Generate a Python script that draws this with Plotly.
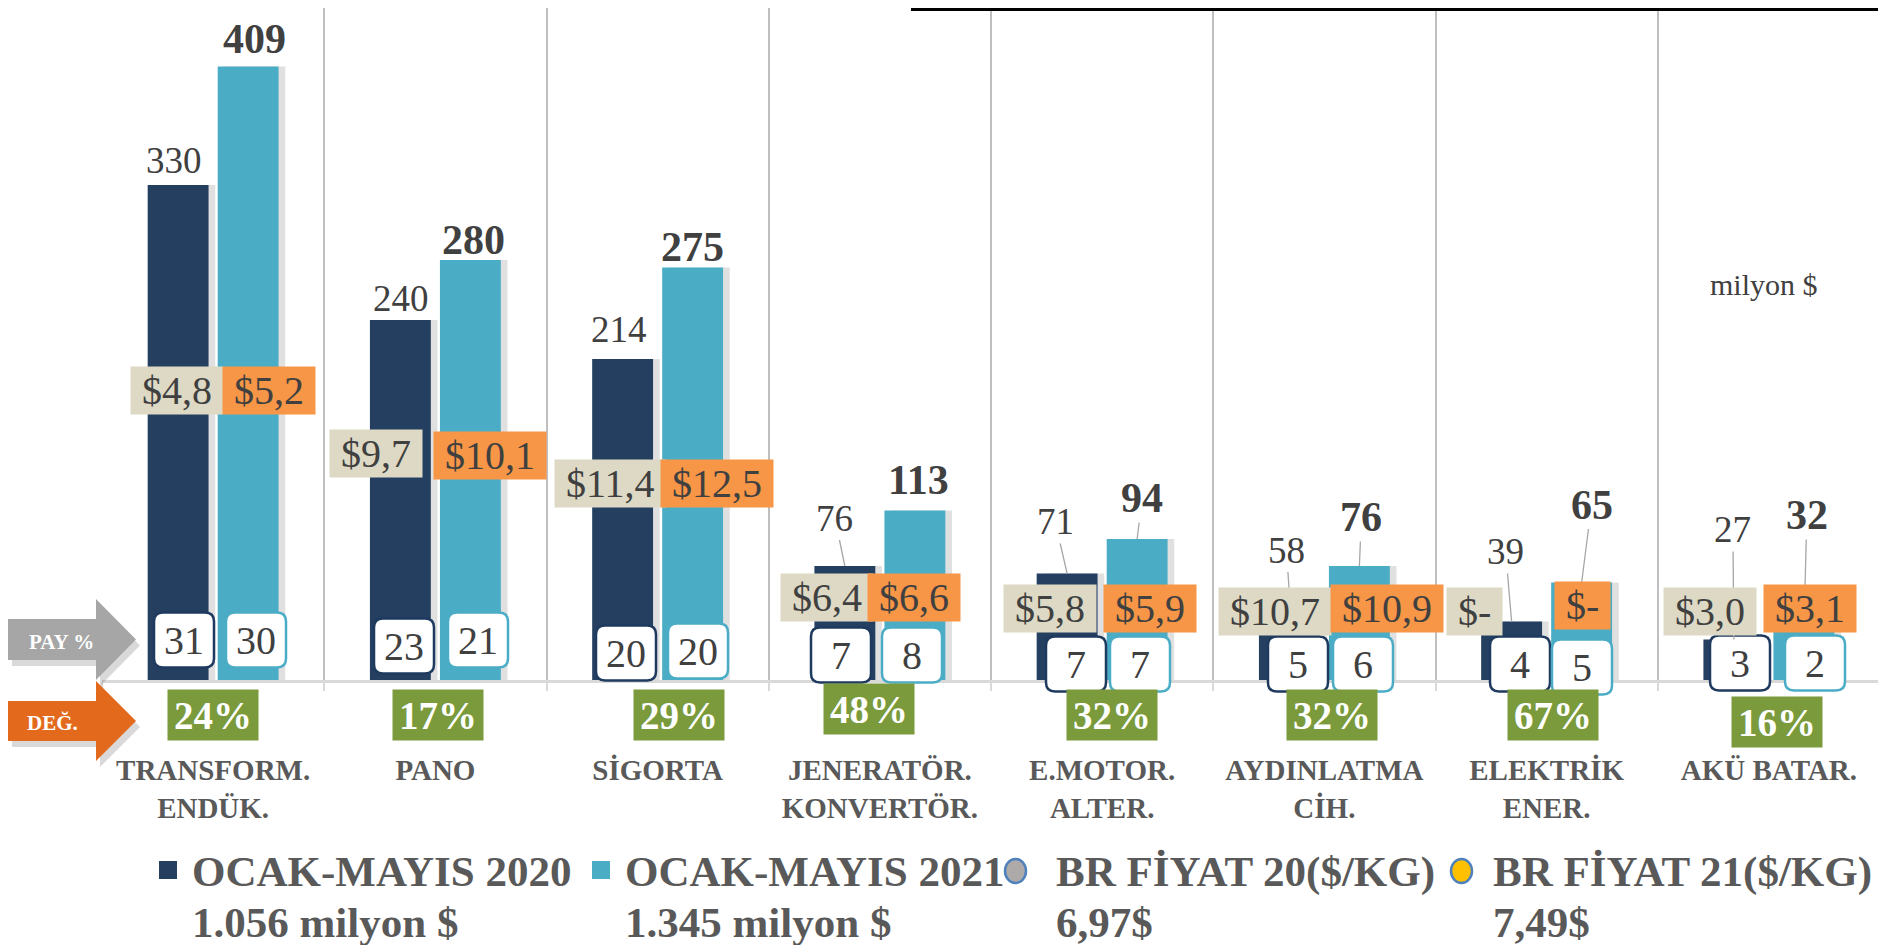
import plotly.graph_objects as go

# ---- data ----
categories = ["TRANSFORM.<br>ENDÜK.", "PANO", "SİGORTA", "JENERATÖR.<br>KONVERTÖR.",
              "E.MOTOR.<br>ALTER.", "AYDINLATMA<br>CİH.", "ELEKTRİK<br>ENER.", "AKÜ BATAR."]
exports_2020 = [330, 240, 214, 76, 71, 58, 39, 27]
exports_2021 = [409, 280, 275, 113, 94, 76, 65, 32]
price_2020 = [4.8, 9.7, 11.4, 6.4, 5.8, 10.7, 0, 3.0]
price_2021 = [5.2, 10.1, 12.5, 6.6, 5.9, 10.9, 0, 3.1]
share_2020 = [31, 23, 20, 7, 7, 5, 4, 3]
share_2021 = [30, 21, 20, 8, 7, 6, 5, 2]
change_pct = [24, 17, 29, 48, 32, 32, 67, 16]
legend_names = ["OCAK-MAYIS 2020", "OCAK-MAYIS 2021", "BR FİYAT 20($/KG)", "BR FİYAT 21($/KG)"]
legend_totals = ["1.056 milyon $", "1.345 milyon $", "6,97$", "7,49$"]

DARK = "#253F60"
LIGHT = "#4BACC6"
BEIGE = "#DDD9C4"
ORANGE = "#F79646"
GREEN = "#7A9A3B"
TXT = "#404040"
GREY_TXT = "#595959"
FONT = "Liberation Serif"

# the page body adds an 8px margin, so the figure is a bit smaller and shifted
W, H = 1878, 937
L, R, T, B = 94, 6, 0, 265
PW, PH = W - L - R, H - T - B


def px(x):  # page x (reference pixels) -> paper
    return (x - 102) / PW


def py(y):  # page y (reference pixels) -> paper
    return (680 - y) / PH


def money(v):
    return "$-" if v == 0 else "$" + f"{v:.1f}".replace(".", ",")


OFF = 0.1575
BW = 0.274

fig = go.Figure()
# soft shadows
for vals, off in [(exports_2020, -OFF), (exports_2021, OFF)]:
    fig.add_trace(go.Bar(x=categories, y=vals, offset=off - BW / 2 + 0.03, width=BW,
                         marker=dict(color="rgba(0,0,0,0.12)", line_width=0),
                         showlegend=False, hoverinfo="skip"))
fig.add_trace(go.Bar(x=categories, y=exports_2020, name=legend_names[0], offset=-OFF - BW / 2,
                     width=BW, marker=dict(color=DARK, line_width=0)))
fig.add_trace(go.Bar(x=categories, y=exports_2021, name=legend_names[1], offset=OFF - BW / 2,
                     width=BW, marker=dict(color=LIGHT, line_width=0)))

ann = []
shapes = []


def note(x, y, text, **kw):
    d = dict(x=px(x), y=py(y), xref="paper", yref="paper", showarrow=False, text=text,
             xanchor="center", yanchor="middle")
    d.update(kw)
    ann.append(d)


# value labels (dx, dy in px relative to bar top; leader = draw connector line)
lab20 = [(-4, -25, 0), (1, -22, 0), (-4, -30, 0), (-10, -48, 1), (-12, -52, 1), (-3, -43, 1), (-6, -70, 1), (-1, -110, 1)]
lab21 = [(6, -28, 0), (3, -20, 0), (0, -21, 0), (4, -31, 0), (5, -41, 1), (2, -49, 1), (10, -78, 1), (3, -117, 1)]
for vals, labs, off, bold, size in [(exports_2020, lab20, -OFF, False, 37), (exports_2021, lab21, OFF, True, 42)]:
    for i, (v, (dx, dy, leader)) in enumerate(zip(vals, labs)):
        a = dict(x=i + off, y=v, xref="x", yref="y", text=str(v), xanchor="center", yanchor="middle",
                 font=dict(family=FONT, size=size, color=TXT, weight="bold" if bold else "normal"))
        if leader:
            a.update(showarrow=True, arrowhead=0, arrowwidth=1.3, arrowcolor="#A6A6A6",
                     ax=dx, ay=dy, standoff=0)
        else:
            a.update(showarrow=False, xshift=dx, yshift=-dy)
        ann.append(a)

# price per kg boxes
pos20 = [(177, 390), (376, 453), (610, 483), (827, 597), (1050, 608), (1275, 611), (1474, 611), (1710, 611)]
pos21 = [(269, 390), (490, 455), (717, 484), (914, 597), (1150, 608), (1387, 608), (1582, 605), (1810, 608)]
for vals, pos, col in [(price_2020, pos20, BEIGE), (price_2021, pos21, ORANGE)]:
    for v, (cx, cy) in zip(vals, pos):
        note(cx, cy, "\u00a0" + money(v) + "\u00a0", bgcolor=col, borderpad=1,
             font=dict(family=FONT, size=40, color=TXT))


def rrect(w, h, r):
    a, b = w / 2, h / 2
    return (f"M {-a + r},{-b} L {a - r},{-b} Q {a},{-b} {a},{-b + r} L {a},{b - r} "
            f"Q {a},{b} {a - r},{b} L {-a + r},{b} Q {-a},{b} {-a},{b - r} "
            f"L {-a},{-b + r} Q {-a},{-b} {-a + r},{-b} Z")


# share (PAY %) boxes
sp20 = [(184, 640), (404, 646), (626, 653), (841, 655), (1076, 664), (1298, 664), (1520, 664), (1740, 663)]
sp21 = [(256, 640), (478, 640), (698, 651), (912, 655), (1140, 664), (1363, 664), (1582, 667), (1815, 663)]
for vals, pos, col in [(share_2020, sp20, "#1F3A5F"), (share_2021, sp21, LIGHT)]:
    for v, (cx, cy) in zip(vals, pos):
        shapes.append(dict(type="path", xref="paper", yref="paper", xsizemode="pixel", ysizemode="pixel",
                           xanchor=px(cx), yanchor=py(cy), path=rrect(60, 55, 9),
                           fillcolor="white", line=dict(color=col, width=2.5), layer="above"))
        note(cx, cy, str(v), font=dict(family=FONT, size=40, color=TXT))

# change boxes
gpos = [(213, 715), (438, 715), (679, 715), (869, 709), (1112, 715), (1332, 715), (1553, 715), (1777, 722)]
for v, (cx, cy) in zip(change_pct, gpos):
    note(cx, cy, f"{v}%", bgcolor=GREEN, width=88, height=48, borderpad=1,
         font=dict(family=FONT, size=39, color="white", weight="bold"))


# side arrows
def arrow_path(x0, xb, xt, y0, y1, h0, h1, dx=0, dy=0):
    pts = [(x0, y0), (xb, y0), (xb, h0), (xt, (h0 + h1) / 2), (xb, h1), (xb, y1), (x0, y1)]
    return "M " + " L ".join(f"{px(x + dx)},{py(y + dy)}" for x, y in pts) + " Z"


for args, col in [((8, 96, 136, 619, 660, 599, 680), "#A6A6A6"), ((8, 96, 136, 701, 741, 681, 761), "#E3691D")]:
    shapes.append(dict(type="path", xref="paper", yref="paper", path=arrow_path(*args, dx=4, dy=6),
                       fillcolor="rgba(0,0,0,0.15)", line_width=0, layer="above"))
    shapes.append(dict(type="path", xref="paper", yref="paper", path=arrow_path(*args),
                       fillcolor=col, line_width=0, layer="above"))
note(61, 642, "PAY %", font=dict(family=FONT, size=21, color="white", weight="bold"))
note(52, 723, "DEĞ.", font=dict(family=FONT, size=21, color="white", weight="bold"))

# unit note
note(1764, 284, "milyon $", font=dict(family=FONT, size=30, color=TXT))

# top black rule
shapes.append(dict(type="line", xref="paper", yref="paper", x0=px(911), x1=px(1890), y0=py(9.5), y1=py(9.5),
                   line=dict(color="black", width=3)))

# legend (drawn by hand)
leg_x = [(159, 190, "sq", DARK), (592, 623, "sq", LIGHT), (1005, 1054, "ci", "#AEAAA9"), (1451, 1491, "ci", "#FFC000")]
for (mx, tx, kind, col), name, total in zip(leg_x, legend_names, legend_totals):
    if kind == "sq":
        shapes.append(dict(type="rect", xref="paper", yref="paper", x0=px(mx), x1=px(mx + 18),
                           y0=py(861), y1=py(879), fillcolor=col, line_width=0))
    else:
        shapes.append(dict(type="circle", xref="paper", yref="paper", x0=px(mx), x1=px(mx + 21),
                           y0=py(859), y1=py(883), fillcolor=col, line=dict(color="#4F81BD", width=2.5)))
    note(tx, 872, name, xanchor="left", font=dict(family=FONT, size=43, color=GREY_TXT, weight="bold"))
    note(tx, 922, total, xanchor="left", font=dict(family=FONT, size=43, color=GREY_TXT, weight="bold"))

fig.update_layout(
    width=W, height=H, margin=dict(l=L, r=R, t=T, b=B),
    paper_bgcolor="white", plot_bgcolor="white",
    barmode="overlay", showlegend=False,
    annotations=ann, shapes=shapes,
    xaxis=dict(type="category", range=[-0.5, 7.5], tickson="boundaries", showgrid=True,
               gridcolor="#BFBFBF", gridwidth=1.5, showline=True, linecolor="#D9D9D9", linewidth=3,
               ticks="outside", ticklen=8, tickcolor="#D9D9D9", tickwidth=2,
               tickfont=dict(family=FONT, size=29, color=GREY_TXT, weight="bold"),
               ticklabelstandoff=62),
    yaxis=dict(range=[0, 448], visible=False, showgrid=False, zeroline=False),
)

fig.write_html("out.html")
